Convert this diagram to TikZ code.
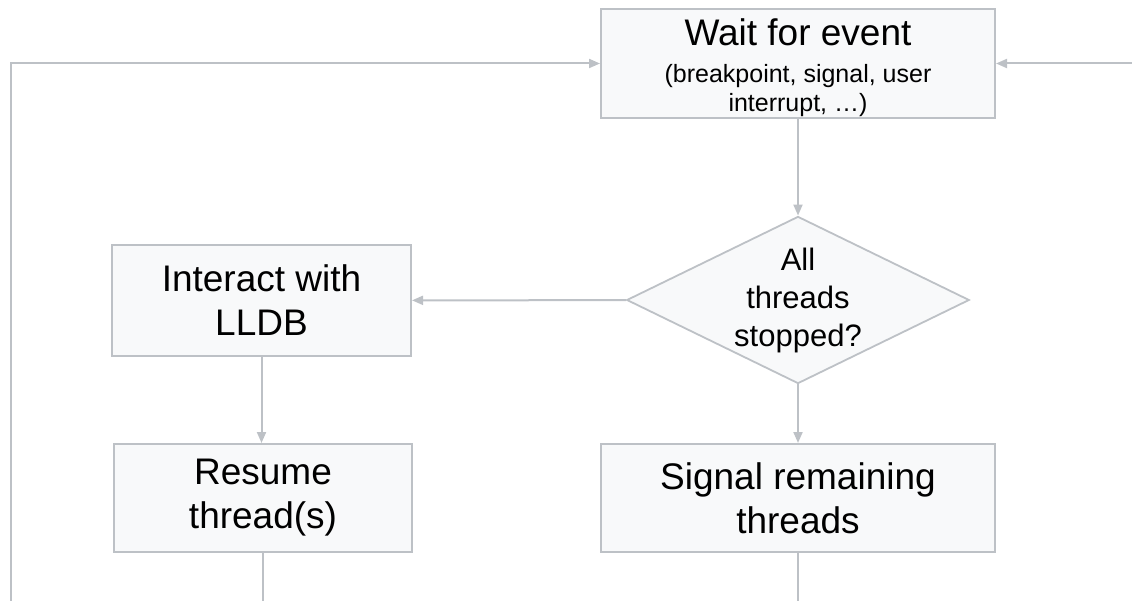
\documentclass[tikz,border=0pt]{standalone}
\usepackage{fontspec}
\setmainfont{Liberation Sans}
\usetikzlibrary{shapes.geometric,arrows.meta}

\definecolor{edgegrey}{HTML}{BDC1C6}
\definecolor{boxfill}{HTML}{F8F9FA}

\tikzset{
  stepbox/.style={draw=edgegrey, line width=2pt, fill=boxfill, rectangle,
    inner sep=0pt, align=center, text=black},
  decision/.style={draw=edgegrey, line width=1.8pt, fill=boxfill, diamond,
    inner sep=0pt, align=center, text=black},
  flow/.style={draw=edgegrey, line width=2pt,
    -{Triangle[length=11pt,width=9pt]}},
  plain/.style={draw=edgegrey, line width=2pt},
  bigtext/.style={font=\fontsize{37}{44}\selectfont},
  midtext/.style={font=\fontsize{31}{38}\selectfont},
  smalltext/.style={font=\fontsize{25}{29}\selectfont},
}

\begin{document}
\begin{tikzpicture}[x=1pt, y=-1pt]
  \useasboundingbox (0,0) rectangle (1132,601);

  % process steps
  \node[stepbox, smalltext, minimum width=394pt, minimum height=109pt] (wait)
    at (798,63.5)
    {\fontsize{37}{44}\selectfont\rule{0pt}{36pt}Wait for event\\[8pt]
     \fontsize{25}{29}\selectfont (breakpoint, signal, user\\
     \fontsize{25}{29}\selectfont interrupt, …)};

  \node[decision, minimum width=340pt, minimum height=166pt, aspect=2.05,
        midtext] (stopped) at (798,300)
    {All\\threads\\stopped?};

  \node[stepbox, bigtext, minimum width=299pt, minimum height=111pt] (interact)
    at (261.5,300.5) {Interact with\\LLDB};

  \node[stepbox, bigtext, minimum width=298pt, minimum height=108pt] (resume)
    at (263,498) {Resume\\thread(s)};

  \node[stepbox, bigtext, minimum width=394pt, minimum height=108pt] (signal)
    at (798,498) {Signal remaining\\threads};

  % loose ends leaving the picture
  \coordinate (resumeout) at (263,601);
  \coordinate (signalout) at (798,601);
  \coordinate (leftloop) at (11,601);
  \coordinate (rightin) at (1132,63.5);

  % connectors
  \draw[flow] (wait) -- (stopped);
  \draw[flow] (stopped) -- (interact);
  \draw[flow] (stopped) -- (signal);
  \draw[flow] (interact.south) -- (interact.south |- resume.north);
  \draw[plain] (resume) -- (resumeout);
  \draw[plain] (signal) -- (signalout);
  \draw[flow] (leftloop) |- (wait.west);
  \draw[flow] (rightin) -- (wait.east);
\end{tikzpicture}
\end{document}
